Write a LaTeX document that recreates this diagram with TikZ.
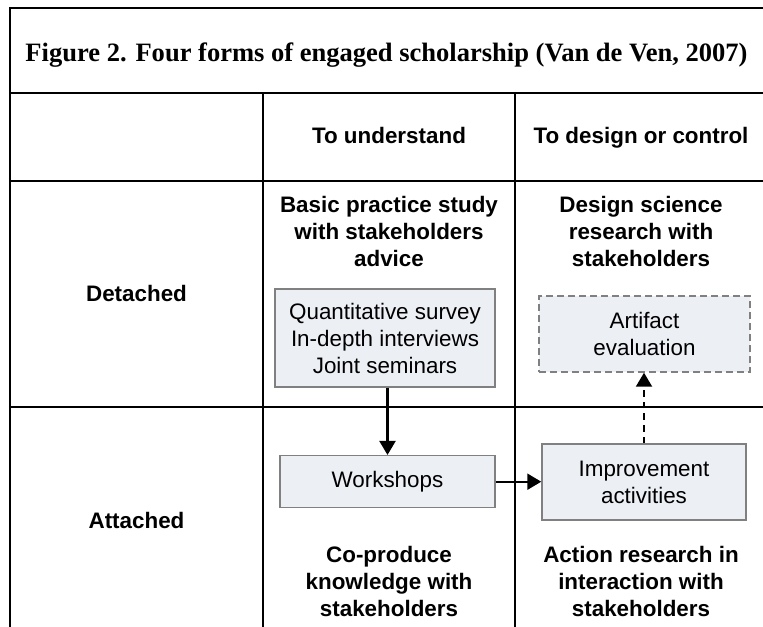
\documentclass[tikz,border=0pt]{standalone}
\usepackage{fontspec}
\setmainfont{Liberation Serif}
\setsansfont{Liberation Sans}
\usetikzlibrary{arrows.meta}

\definecolor{boxfill}{RGB}{236,239,244}
\definecolor{boxdraw}{RGB}{128,128,128}

\tikzset{every picture/.style={line width=0.75pt}}
\tikzset{
  cell/.style={line width=1.8pt},
  head/.style={inner sep=0pt, align=center, font=\sffamily\bfseries\fontsize{16.8}{20.25}\selectfont},
  activity/.style={draw=boxdraw, fill=boxfill, line width=1.1pt, inner sep=0pt, align=center, font=\sffamily\fontsize{16.8}{20.25}\selectfont},
  flow/.style={-{Triangle[width=12pt,length=10.5pt]}, line width=1.6pt},
}

\begin{document}
\begin{tikzpicture}[x=0.75pt, y=0.75pt, yscale=-1, xscale=1]

    \useasboundingbox (0,0) rectangle (763,627);

    % Table lines
    \draw [cell] (763,8) -- (10,8) -- (10,627);
    \draw [cell] (10,93) -- (763,93);
    \draw [cell] (10,181) -- (763,181);
    \draw [cell] (10,407) -- (763,407);
    \draw [cell] (263,93) -- (263,627);
    \draw [cell] (515,93) -- (515,627);

    % Title
    \draw (386.5,61.7) node (title) [anchor=base, inner sep=0pt, font=\rmfamily\bfseries\fontsize{19.9}{24}\selectfont] {Figure 2. Four forms of engaged scholarship (Van de Ven, 2007)};

    % Column heads
    \draw (389,144) node (understand) [head, anchor=base] {To understand};
    \draw (641,144) node (design) [head, anchor=base] {To design or control};

    % Row heads
    \draw (136.5,301) node (detached) [head, anchor=base] {Detached};
    \draw (136.5,528) node (attached) [head, anchor=base] {Attached};

    % Forms: detached
    \draw (389,195.7) node (basic) [head, anchor=north] {Basic practice study\\with stakeholders\\advice};
    \draw (641,195.7) node (science) [head, anchor=north] {Design science\\research with\\stakeholders};

    % Forms: attached
    \draw (389,545.7) node (coproduce) [head, anchor=north] {Co-produce\\knowledge with\\stakeholders};
    \draw (641,545.7) node (action) [head, anchor=north] {Action research in\\interaction with\\stakeholders};

    % Activities
    \draw (385,338) node (survey) [activity, minimum width=165pt, minimum height=73.5pt] {Quantitative survey\\In-depth interviews\\Joint seminars};
    \draw (644.5,334) node (artifact) [activity, dash pattern=on 5.25pt off 3pt, minimum width=158.25pt, minimum height=57pt] {Artifact\\evaluation};
    \draw (387.5,481.7) node (workshops) [activity, minimum width=161.25pt, minimum height=39pt] {Workshops};
    \draw (644,482) node (improve) [activity, minimum width=153pt, minimum height=57pt] {Improvement\\activities};

    % Line survey - workshops
    \draw [flow] (workshops.north |- survey.south) -- (workshops.north);

    % Line workshops - improve
    \draw [flow] (workshops.east) -- (workshops.east -| improve.west);

    % Line improve - artifact
    \draw [flow, dash pattern=on 5pt off 3.75pt] (improve.north) -- (improve.north |- artifact.south);

\end{tikzpicture}
\end{document}
